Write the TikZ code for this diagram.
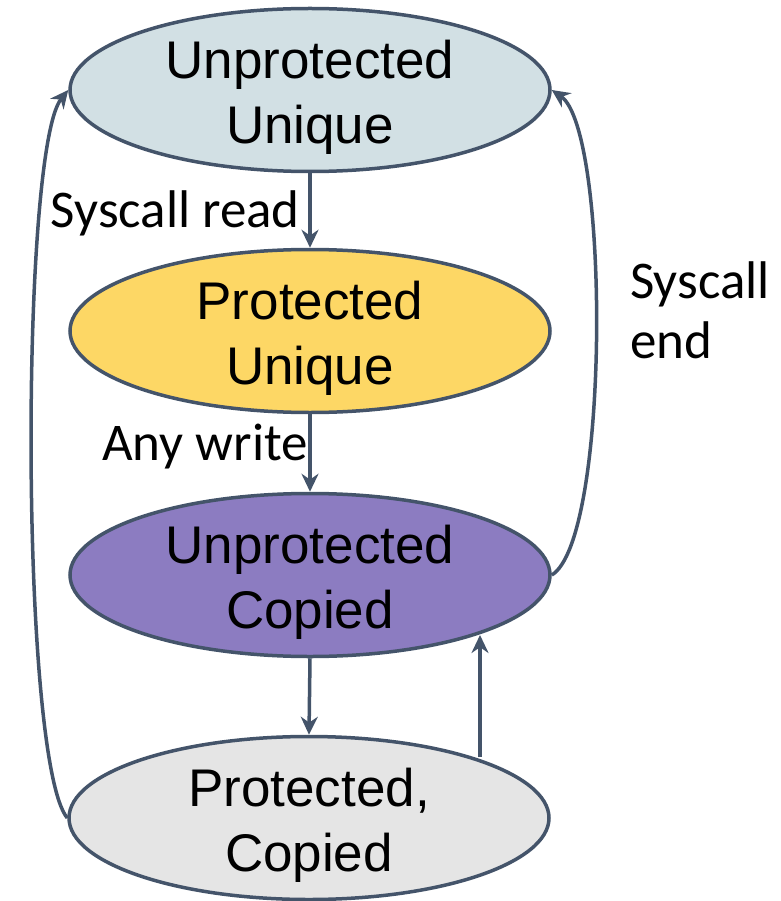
\documentclass[tikz,border=0pt]{standalone}
\usepackage{fontspec}
\setmainfont{Liberation Sans}
\newfontfamily\labfont{Carlito}
\usetikzlibrary{shapes.geometric,arrows.meta}
\definecolor{edgec}{HTML}{44546A}
\definecolor{fillA}{HTML}{D2E0E4}
\definecolor{fillB}{HTML}{FDD765}
\definecolor{fillC}{HTML}{8C7CC1}
\definecolor{fillD}{HTML}{E5E5E5}
\tikzset{
  state/.style={ellipse, draw=edgec, line width=3.5pt, minimum width=480pt, minimum height=163pt, inner sep=0pt},
  stext/.style={align=center, font=\fontsize{53}{65}\selectfont, yshift=-7pt, inner sep=0pt},
  conn/.style={draw=edgec, line width=3.5pt, -{Stealth[length=18pt,width=17pt]}},
  lab/.style={font=\labfont\fontsize{53}{60}\selectfont, inner sep=0pt, align=left}
}
\begin{document}
\begin{tikzpicture}[x=1pt,y=1pt]
\useasboundingbox (0,0) rectangle (780,-901);
\node[state, fill=fillA, label={[stext]center:Unprotected\\Unique}] (uu) at (310,-90) {};
\node[state, fill=fillB, label={[stext]center:Protected\\Unique}] (pu) at (310,-331) {};
\node[state, fill=fillC, label={[stext]center:Unprotected\\Copied}] (uc) at (310,-575) {};
\node[state, fill=fillD, label={[stext]center:Protected,\\Copied}] (pc) at (309,-818) {};
\draw[conn] (uu.south) -- (pu.north);
\draw[conn] (pu.south) -- (uc.north);
\draw[conn] (uc.south) -- (pc.north);
\coordinate (pcup) at (480,-757);
\coordinate (ucdn) at (480,-635);
\draw[conn] (pcup) -- (ucdn);
\draw[conn] (pc.west) .. controls (20,-760) and (20,-150) .. (uu.west);
\draw[conn] (uc.east) .. controls (610,-540) and (610,-130) .. (uu.east);
\node[lab, anchor=east] (l1) at (300,-213) {Syscall read};
\node[lab, anchor=east] (l2) at (308,-447) {Any write};
\node[lab, anchor=west] (l3) at (630,-310) {Syscall\\end};
\end{tikzpicture}
\end{document}
